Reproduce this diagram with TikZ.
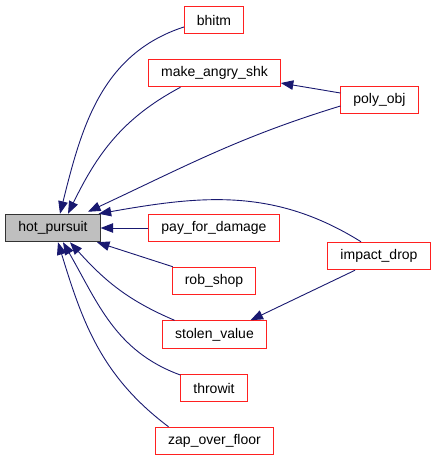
\documentclass[tikz,border=0pt]{standalone}
\usepackage{fontspec}
\setmainfont{Liberation Sans}
\usetikzlibrary{arrows.meta,positioning}
\definecolor{EdgeNavy}{HTML}{191970}
\definecolor{FnRed}{HTML}{FF2020}
\definecolor{RootGray}{HTML}{BFBFBF}

\begin{document}
\begin{tikzpicture}[
    x=1pt, y=1pt,
    fn/.style={
        draw=FnRed,
        fill=white,
        line width=1pt,
        minimum height=27.5pt,
        inner xsep=12.5pt,
        inner ysep=0pt,
        font=\fontsize{14}{16}\selectfont
    },
    root/.style={fn, draw=black!80, fill=RootGray},
    call/.style={draw=EdgeNavy, line width=0.9pt, -{Triangle[length=12.5pt,width=9.5pt]}}
]
    \useasboundingbox (0,0) rectangle (437,-461);

    % the function and its callers
    \node[root] (hot_pursuit) at (53,-228) {hot\_pursuit};
    \node[fn] (bhitm) at (214,-20) {bhitm};
    \node[fn] (make_angry_shk) at (214.5,-73) {make\_angry\_shk};
    \node[fn] (poly_obj) at (379.5,-100) {poly\_obj};
    \node[fn] (pay_for_damage) at (214,-228) {pay\_for\_damage};
    \node[fn] (impact_drop) at (379,-256) {impact\_drop};
    \node[fn] (rob_shop) at (214,-281) {rob\_shop};
    \node[fn] (stolen_value) at (214.5,-334.5) {stolen\_value};
    \node[fn] (throwit) at (214,-388) {throwit};
    \node[fn] (zap_over_floor) at (214.5,-441) {zap\_over\_floor};

    % calls from above
    \draw[call] ([yshift=-7pt]bhitm.west) to[out=198, in=76] ([xshift=7pt]hot_pursuit.north);
    \draw[call] ([xshift=-34pt]make_angry_shk.south) to[out=208, in=64] ([xshift=15pt]hot_pursuit.north);
    \draw[call] ([yshift=-6pt]poly_obj.west) to[out=197, in=25] ([xshift=35pt,yshift=2pt]hot_pursuit.north);
    \draw[call] ([xshift=-18pt]impact_drop.north) to[out=148, in=10] ([xshift=-2pt]hot_pursuit.north east);
    \draw[call] ([yshift=7pt]poly_obj.west) -- ([yshift=-10pt]make_angry_shk.east);

    % calls from the side and below
    \draw[call] (pay_for_damage.west) -- (hot_pursuit.east);
    \draw[call] ([xshift=1pt]rob_shop.north west) -- ([xshift=44pt]hot_pursuit.south);
    \draw[call] ([xshift=-40pt]stolen_value.north) to[out=157, in=-48] ([xshift=17pt]hot_pursuit.south);
    \draw[call] ([yshift=13pt]throwit.west) to[out=160, in=-60] ([xshift=10pt]hot_pursuit.south);
    \draw[call] ([xshift=-46pt]zap_over_floor.north) to[out=143, in=-73] ([xshift=5pt]hot_pursuit.south);
    \draw[call] ([xshift=-24pt]impact_drop.south) -- ([xshift=36pt]stolen_value.north);
\end{tikzpicture}
\end{document}
